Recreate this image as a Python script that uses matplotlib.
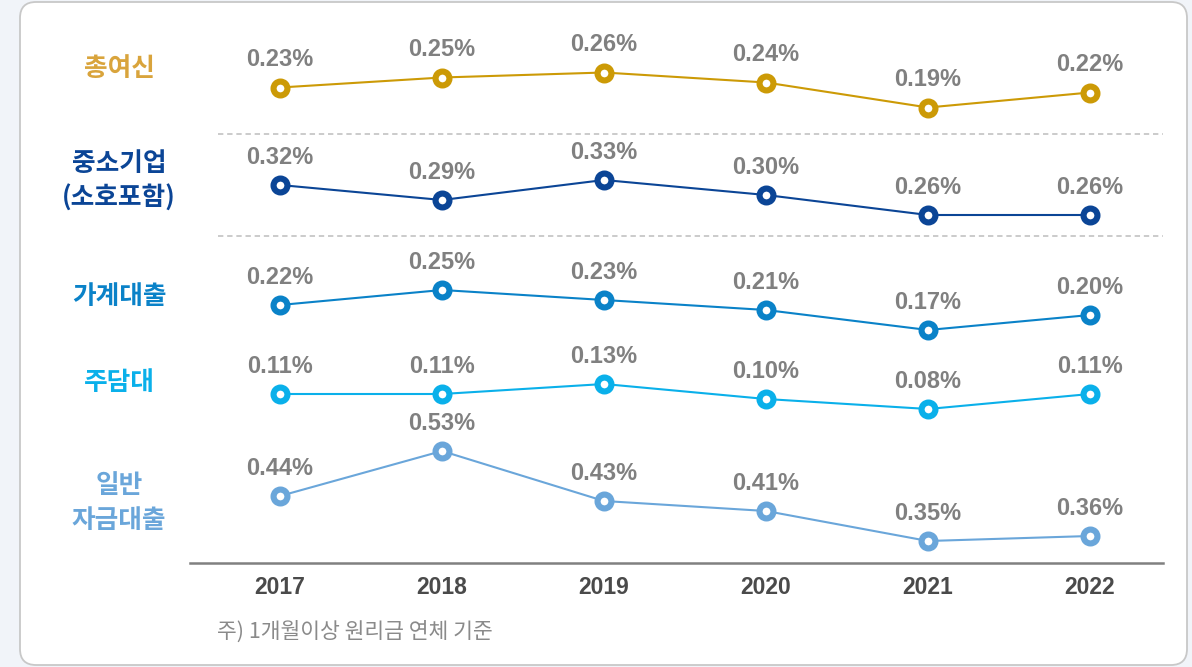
import matplotlib
matplotlib.use('Agg')
import matplotlib.pyplot as plt
from matplotlib.patches import FancyBboxPatch
from matplotlib.lines import Line2D

# ---------------- data ----------------
years = [2017, 2018, 2019, 2020, 2021, 2022]
total = [0.23, 0.25, 0.26, 0.24, 0.19, 0.22]
sme = [0.32, 0.29, 0.33, 0.30, 0.26, 0.26]
household = [0.22, 0.25, 0.23, 0.21, 0.17, 0.20]
mortgage = [0.11, 0.11, 0.13, 0.10, 0.08, 0.11]
general = [0.44, 0.53, 0.43, 0.41, 0.35, 0.36]
series_names = ['총여신', '중소기업\n(소호포함)', '가계대출', '주담대', '일반\n자금대출']
note = '주) 1개월이상 원리금 연체 기준'

series = [total, sme, household, mortgage, general]
line_colors = ['#cc9a06', '#0b4596', '#0a82c8', '#0ab0ea', '#6aa6da']
label_colors = ['#d9a43c', '#0b4596', '#0a82c8', '#0ab0ea', '#6aa6da']

plt.rcParams['font.family'] = ['Liberation Sans', 'Noto Sans CJK KR', 'DejaVu Sans']

W, H = 1192, 667
fig = plt.figure(figsize=(W / 100, H / 100), dpi=100, facecolor='#f1f4f9')

# background axes in pixel coordinates
bg = fig.add_axes([0, 0, 1, 1])
bg.set_xlim(0, W)
bg.set_ylim(H, 0)
bg.axis('off')
card = FancyBboxPatch((20, 2), 1167, 663,
                      boxstyle='round,pad=0,rounding_size=16',
                      facecolor='white', edgecolor='#c8c8c8', linewidth=1.3)
bg.add_patch(card)
for yy in (134, 236):
    bg.add_line(Line2D([218, 1163], [yy, yy], color='#bdbdbd', lw=1.1,
                       linestyle=(0, (3.5, 2.5))))

# category labels
label_y = [68, 181, 296, 383, 503]
for name, yy, c in zip(series_names, label_y, label_colors):
    bg.text(119, yy, name, ha='center', va='center', fontsize=18.5, fontweight='bold',
            color=c, family=['Noto Sans CJK KR'], linespacing=1.35)

bg.text(217, 632, note, ha='left', va='center', fontsize=15.5, color='#8a8a8a',
        family=['Noto Sans CJK KR'])

# plot axes region (pixels)
px_l, px_r, px_t, px_b = 190, 1163, 20, 563
rect = [px_l / W, (H - px_b) / H, (px_r - px_l) / W, (px_b - px_t) / H]
scale = 500.0  # pixels per 1 %p
span = (px_b - px_t) / scale
ytops = [0.365, 0.65, 0.79, 0.858, 1.392]
xlim = (2017 - 90 / 162, 2022 + 73 / 162)

for i, (vals, c, top) in enumerate(zip(series, line_colors, ytops)):
    ax = fig.add_axes(rect, label=f's{i}')
    ax.patch.set_visible(False)
    ax.set_xlim(*xlim)
    ax.set_ylim(top - span, top)
    ax.plot(years, vals, color=c, lw=1.5, marker='o', markersize=10,
            markeredgewidth=4.4, markerfacecolor='white', markeredgecolor=c,
            zorder=3, clip_on=False)
    for x, v in zip(years, vals):
        ax.annotate(f'{v:.2f}%', (x, v), xytext=(0, 20), textcoords='offset points',
                    ha='center', va='center', fontsize=17, fontweight='bold',
                    color='#808080')
    for s in ax.spines.values():
        s.set_visible(False)
    ax.set_yticks([])
    if i == len(series) - 1:
        ax.spines['bottom'].set_visible(True)
        ax.spines['bottom'].set_color('#808080')
        ax.spines['bottom'].set_linewidth(1.8)
        ax.set_xticks(years)
        ax.set_xticklabels([str(y) for y in years], fontsize=16.5,
                           fontweight='bold', color='#4a4a4a')
        ax.tick_params(axis='x', length=0, pad=9)
    else:
        ax.set_xticks([])

fig.savefig('out.png', dpi=100, facecolor=fig.get_facecolor())
